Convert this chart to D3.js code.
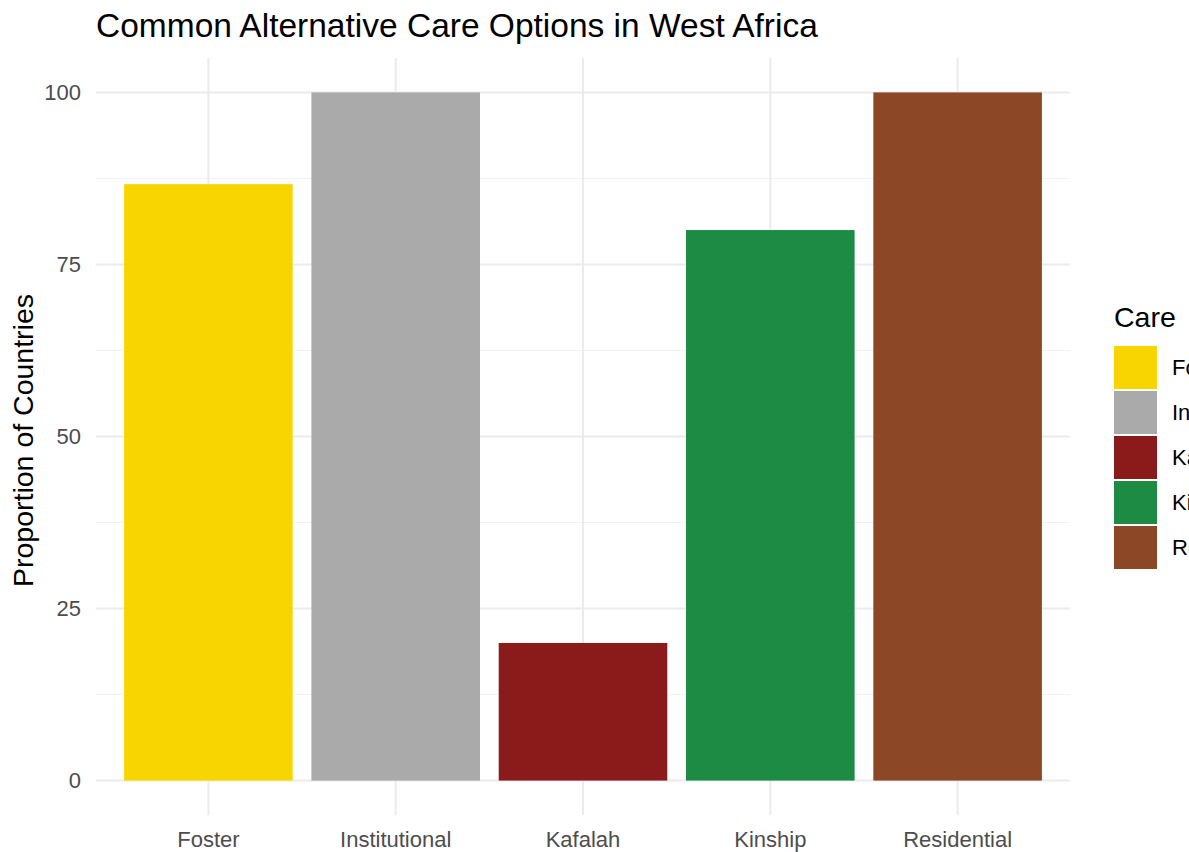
<!DOCTYPE html>
<html>
<head>
<meta charset="utf-8">
<script src="https://cdn.jsdelivr.net/npm/d3@7"></script>
<style>
  body { margin: 0; background: #fff; }
  text { font-family: "Liberation Sans", Arial, sans-serif; }
</style>
</head>
<body>
<div id="chart"></div>
<script>
// Data
const careTypes = ["Foster", "Institutional", "Kafalah", "Kinship", "Residential"];
const proportions = [86.67, 100, 20, 80, 100];
const careColors = ["#F9D500", "#AAAAAA", "#8B1A1A", "#1E8B45", "#8B4726"];
const yTicks = [0, 25, 50, 75, 100];
const yMinorTicks = [12.5, 37.5, 62.5, 87.5];

const width = 1189;
const height = 852;

// Panel area
const panel = { left: 96, right: 1070, top: 58, bottom: 815 };

const svg = d3.select("#chart")
    .append("svg")
    .attr("width", width)
    .attr("height", height);

// ggplot-like discrete spacing: 0.6 step from edge to first centre, bars 0.9 wide
const x = d3.scaleBand()
    .domain(careTypes)
    .range([panel.left, panel.right])
    .paddingInner(0.1)
    .paddingOuter(0.15);

const y = d3.scaleLinear()
    .domain([-5, 105])
    .range([panel.bottom, panel.top]);

const color = d3.scaleOrdinal().domain(careTypes).range(careColors);

// Grid lines
const grid = svg.append("g");
grid.selectAll(".minor")
    .data(yMinorTicks)
    .enter().append("line")
    .attr("x1", panel.left).attr("x2", panel.right)
    .attr("y1", d => y(d)).attr("y2", d => y(d))
    .attr("stroke", "#F1F1F1")
    .attr("stroke-width", 1);

grid.selectAll(".major")
    .data(yTicks)
    .enter().append("line")
    .attr("x1", panel.left).attr("x2", panel.right)
    .attr("y1", d => y(d)).attr("y2", d => y(d))
    .attr("stroke", "#EBEBEB")
    .attr("stroke-width", 2);

grid.selectAll(".vmajor")
    .data(careTypes)
    .enter().append("line")
    .attr("x1", d => x(d) + x.bandwidth() / 2)
    .attr("x2", d => x(d) + x.bandwidth() / 2)
    .attr("y1", panel.top).attr("y2", panel.bottom)
    .attr("stroke", "#EBEBEB")
    .attr("stroke-width", 2);

// Bars
svg.selectAll(".bar")
    .data(careTypes)
    .enter().append("rect")
    .attr("x", d => x(d))
    .attr("width", x.bandwidth())
    .attr("y", (d, i) => y(proportions[i]))
    .attr("height", (d, i) => y(0) - y(proportions[i]))
    .attr("fill", d => color(d));

// Y axis labels
const yAxis = svg.append("g")
    .attr("transform", `translate(${panel.left - 15},0)`)
    .call(d3.axisLeft(y).tickValues(yTicks).tickSize(0).tickPadding(0));
yAxis.select(".domain").remove();
yAxis.selectAll("text")
    .attr("font-size", 22)
    .attr("fill", "#4D4D4D")
    .attr("font-family", "Liberation Sans, Arial, sans-serif");

// X axis labels (cut at the bottom edge, as in the original)
const xAxis = svg.append("g")
    .attr("transform", `translate(0,${panel.bottom + 16})`)
    .call(d3.axisBottom(x).tickSize(0).tickPadding(0));
xAxis.select(".domain").remove();
xAxis.selectAll("text")
    .attr("font-size", 22)
    .attr("fill", "#4D4D4D")
    .attr("font-family", "Liberation Sans, Arial, sans-serif");

// Title
svg.append("text")
    .attr("x", panel.left)
    .attr("y", 37)
    .attr("font-size", 33.5)
    .attr("fill", "#000")
    .text("Common Alternative Care Options in West Africa");

// Y axis title
svg.append("text")
    .attr("transform", `translate(33,${(panel.top + panel.bottom) / 2 + 4}) rotate(-90)`)
    .attr("text-anchor", "middle")
    .attr("font-size", 28.5)
    .attr("fill", "#000")
    .text("Proportion of Countries");

// Legend
const legend = svg.append("g").attr("transform", "translate(1114,0)");
legend.append("text")
    .attr("x", 0)
    .attr("y", 327)
    .attr("font-size", 28.5)
    .attr("fill", "#000")
    .text("Care");

const keys = legend.selectAll(".key")
    .data(careTypes)
    .enter().append("g")
    .attr("transform", (d, i) => `translate(0,${346 + i * 45})`);

keys.append("rect")
    .attr("width", 43)
    .attr("height", 43)
    .attr("fill", d => color(d));

keys.append("text")
    .attr("x", 58)
    .attr("y", 29)
    .attr("font-size", 22)
    .attr("fill", "#000")
    .text(d => d);
</script>
</body>
</html>
